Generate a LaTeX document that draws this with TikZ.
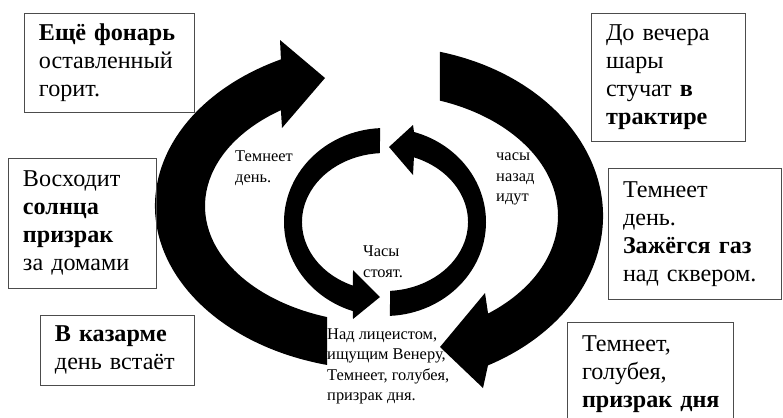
\documentclass[tikz,border=0pt]{standalone}
\usepackage{fontspec}
\setmainfont{Liberation Serif}
\usetikzlibrary{calc}

\tikzset{
  textbox/.style={draw=black!70, line width=0.6pt, align=left, inner xsep=0.45cm, font=\fontsize{20.6}{23.8}\selectfont},
  smalltext/.style={align=left, inner sep=0pt, anchor=west, font=\fontsize{14}{17.5}\selectfont},
}

\begin{document}
\begin{tikzpicture}[x=0.03cm, y=-0.03cm]
  \clip (0,0) rectangle (783,417);

  % centres of the arcs
  \coordinate (cL) at (383,206);
  \coordinate (cR) at (383,216);
  \coordinate (cI) at (385,222);

  % === outer left arrow (bottom -> top) ===
  \fill ($(cL)+(104.2:228 and 164)$) arc[start angle=104.2, end angle=243.4, x radius=228, y radius=164]
    -- (280,40) -- (325,78) -- (282,128)
    -- ($(cL)+(235:178 and 117)$) arc[start angle=235, end angle=108.3, x radius=178, y radius=117] -- cycle;

  % === outer right arrow (top -> bottom) ===
  \fill ($(cR)+(285:220 and 170)$) arc[start angle=285, end angle=421.5, x radius=220, y radius=170]
    -- (483,388) -- (440,347) -- (485,293)
    -- ($(cR)+(413.1:175 and 122)$) arc[start angle=413.1, end angle=289, x radius=175, y radius=122] -- cycle;

  % === inner left arrow ===
  \fill ($(cI)+(267.2:101 and 94)$) arc[start angle=267.2, end angle=108.5, x radius=101, y radius=94]
    -- (353,319) -- (380,297) -- (353,270)
    -- ($(cI)+(112.7:83 and 69)$) arc[start angle=112.7, end angle=266.5, x radius=83, y radius=69] -- cycle;

  % === inner right arrow ===
  \fill ($(cI)+(87.2:101 and 94)$) arc[start angle=87.2, end angle=-73.3, x radius=101, y radius=94]
    -- (413,125) -- (389,147) -- (413,175)
    -- ($(cI)+(-69.6:83 and 69)$) arc[start angle=-69.6, end angle=86.5, x radius=83, y radius=69] -- cycle;

  % === boxes ===
  \node[textbox, minimum width=5.1cm, minimum height=2.97cm, text width=4.2cm] (lamp) at (109,62.5)
    {\textbf{Ещё~фонарь}\\оставленный\\горит.};
  \node[textbox, minimum width=4.44cm, minimum height=3.9cm, text width=3.54cm] (sunrise) at (82,223)
    {Восходит\\\textbf{солнца}\\\textbf{призрак}\\за~домами};
  \node[textbox, minimum width=4.62cm, minimum height=2.1cm, text width=3.72cm] (barracks) at (117,350)
    {\textbf{В~казарме}\\день~встаёт};
  \node[textbox, minimum width=4.62cm, minimum height=3.84cm, text width=3.72cm] (tavern) at (668,77)
    {До~вечера\\шары\\стучат~\textbf{в}\\\textbf{трактире}};
  \node[textbox, minimum width=5.19cm, minimum height=3.93cm, text width=4.29cm] (gaslight) at (694.5,234)
    {Темнеет\\день.\\\textbf{Зажёгся~газ}\\над~сквером.};
  \node[textbox, minimum width=4.98cm, minimum height=3.09cm, text width=4.08cm] (dusk) at (650,374)
    {Темнеет,\\голубея,\\\textbf{призрак~дня}};

  % === small labels ===
  \node[smalltext] (darkens) at (235,168) {Темнеет\\день.};
  \node[smalltext] (backwards) at (496,179) {часы\\назад\\идут};
  \node[smalltext] (stopped) at (363,261.5) {Часы\\стоят.};
  \node[smalltext] (lyceum) at (327,366.5) {Над лицеистом,\\ищущим Венеру,\\Темнеет, голубея,\\призрак дня.};
\end{tikzpicture}
\end{document}
